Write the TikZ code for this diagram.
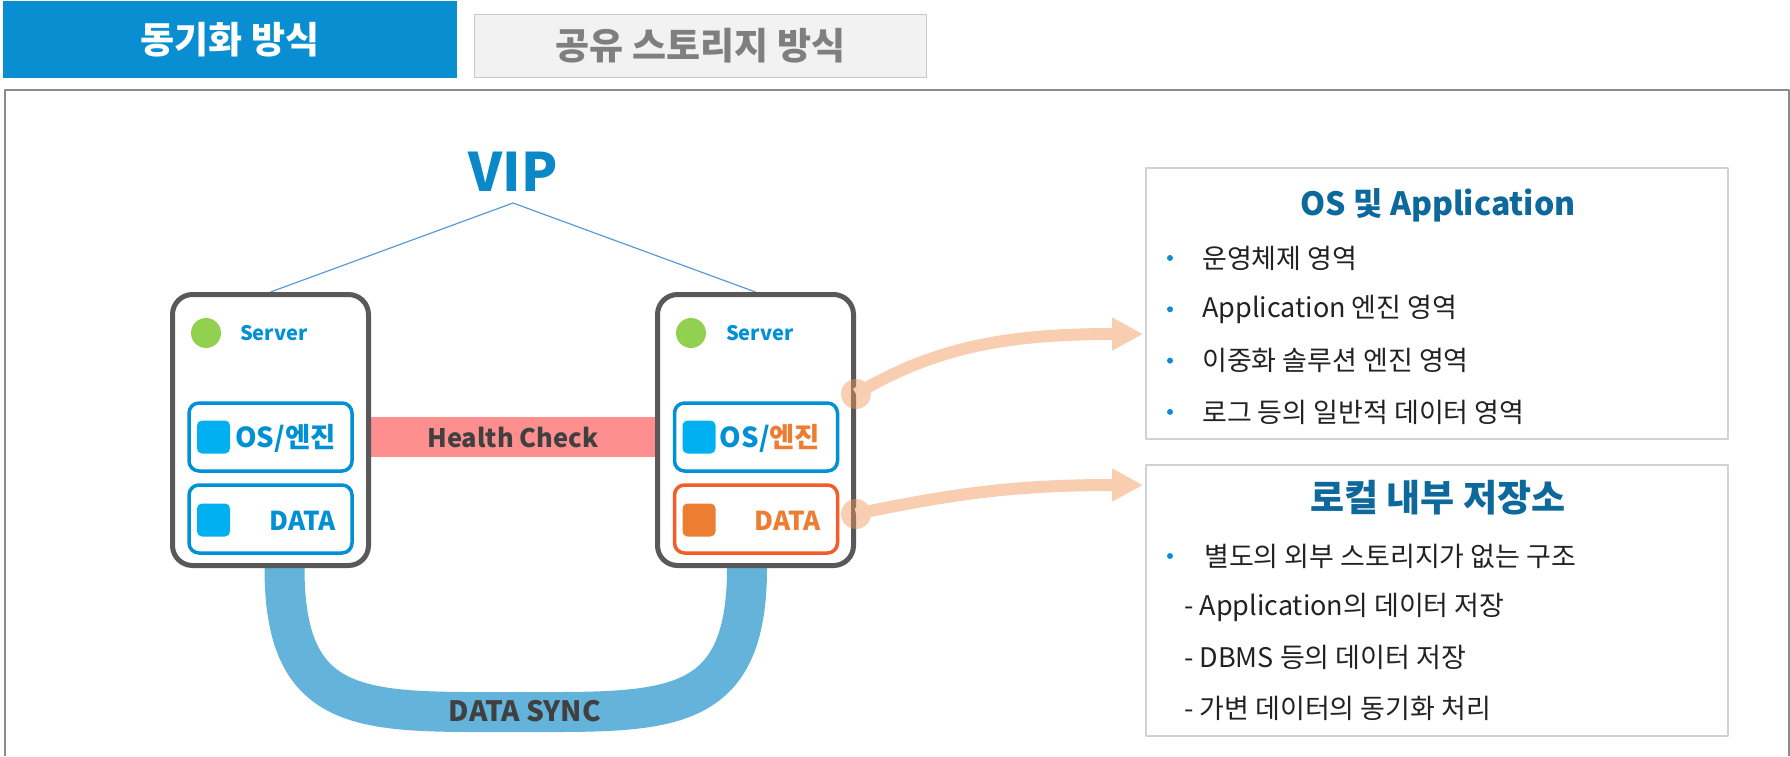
\documentclass[tikz,border=0pt]{standalone}
\usepackage{fontspec}
\setmainfont{Noto Sans CJK KR}
\usetikzlibrary{arrows.meta,backgrounds}
\definecolor{tabblue}{RGB}{9,142,209}
\definecolor{tabgray}{RGB}{242,242,242}
\definecolor{tabline}{RGB}{200,200,200}
\definecolor{tabtext}{RGB}{127,127,127}
\definecolor{framegray}{RGB}{140,140,140}
\definecolor{vipblue}{RGB}{10,136,200}
\definecolor{viplineblue}{RGB}{91,155,213}
\definecolor{servergray}{RGB}{89,89,89}
\definecolor{partblue}{RGB}{0,144,214}
\definecolor{partorange}{RGB}{244,92,40}
\definecolor{chipblue}{RGB}{0,176,240}
\definecolor{chiporange}{RGB}{237,125,49}
\definecolor{dotgreen}{RGB}{146,208,80}
\definecolor{hcred}{RGB}{255,143,143}
\definecolor{syncblue}{RGB}{99,179,218}
\definecolor{labeldark}{RGB}{64,64,64}
\definecolor{peachline}{RGB}{248,205,176}
\definecolor{peachdot}{RGB}{240,150,90}
\definecolor{panelline}{RGB}{210,210,210}
\definecolor{titleblue}{RGB}{13,104,155}
\definecolor{bulletblue}{RGB}{16,140,210}
\definecolor{textdark}{RGB}{34,34,34}
\newcommand{\pxfont}[1]{\fontsize{#1}{#1}\selectfont}
\begin{document}
\begin{tikzpicture}[x=1pt,y=-1pt,line join=round,font=\pxfont{27},
	tabbox/.style={inner sep=0pt,font=\pxfont{37}\bfseries},
	server/.style={draw=servergray,line width=5pt,rounded corners=20pt,fill=white,
		minimum width=196pt,minimum height=271pt,inner sep=0pt},
	part/.style={draw=partblue,line width=3.5pt,rounded corners=10pt,fill=white,
		minimum width=163pt,minimum height=68pt,inner sep=0pt},
	chip/.style={fill=chipblue,rounded corners=5pt,minimum size=33pt,inner sep=0pt},
	dot/.style={circle,fill=dotgreen,minimum size=30pt,inner sep=0pt},
	partlabel/.style={text=partblue,font=\pxfont{26}\bfseries,inner sep=0pt},
	panel/.style={draw=panelline,line width=2pt,minimum width=582pt,minimum height=271pt,inner sep=0pt},
	paneltitle/.style={text=titleblue,font=\pxfont{34}\bfseries,inner sep=0pt},
	item/.style={anchor=west,text=textdark,inner sep=0pt},
	peacharrow/.style={draw=peachline,line width=12pt,-{Triangle[length=31pt,width=31pt]}}]
	\useasboundingbox (0,0) rectangle (1790,756);
	% tabs and frame
	\node[tabbox,fill=tabblue,text=white,minimum width=454pt,minimum height=77pt] (tabsync) at (230,39.5) {동기화 방식};
	\node[tabbox,fill=tabgray,draw=tabline,line width=1.5pt,text=tabtext,minimum width=452pt,minimum height=63pt] (tabshare) at (700.5,46) {공유 스토리지 방식};
	\draw[framegray,line width=2pt] (5,756) |- (1789,90) -- (1789,756);
	% VIP and servers
	\node[text=vipblue,font=\pxfont{53}\bfseries,inner sep=0pt] (vip) at (513,171.5) {VIP};
	\coordinate (apex) at (513,203);
	\node[server] (sv1) at (270.5,430) {};
	\node[server] (sv2) at (755.5,430) {};
	\node[dot] (dot1) at (206,333) {};
	\node[dot] (dot2) at (691,333) {};
	\node[partlabel,anchor=west,font=\pxfont{20}\bfseries] (srv1) at (240,333) {Server};
	\node[partlabel,anchor=west,font=\pxfont{20}\bfseries] (srv2) at (726,333) {Server};
	\node[part] (os1) at (270.5,437) {};
	\node[part] (data1) at (270.5,519) {};
	\node[part] (os2) at (756,437) {};
	\node[part,draw=partorange] (data2) at (756,519) {};
	\node[chip] (chipos1) at (213.5,437) {};
	\node[chip] (chipdata1) at (213.5,520) {};
	\node[chip] (chipos2) at (699,437) {};
	\node[chip,fill=chiporange] (chipdata2) at (699,520) {};
	\node[partlabel,font=\pxfont{27.5}\bfseries] (oslabel1) at (285.5,438) {OS/엔진};
	\node[partlabel] (datalabel1) at (302.5,521) {DATA};
	\node[partlabel,font=\pxfont{27.5}\bfseries] (oslabel2) at (770,438) {OS/\textcolor{chiporange}{엔진}};
	\node[partlabel,text=chiporange] (datalabel2) at (787.5,521) {DATA};
	\coordinate (syncmid) at (515,712);
	\begin{scope}[on background layer]
		\draw[viplineblue,line width=1.2pt] (sv1.north) -- (apex) -- (sv2.north);
		\draw[hcred,line width=40pt] (sv1.east |- os1) -- (sv2.west |- os1)
			node[midway,text=labeldark,font=\pxfont{25.5}\bfseries] (hc) {Health Check};
		\draw[syncblue,line width=40pt] ([xshift=14pt]sv1.south) .. controls +(0,150) and +(-150,0) .. (syncmid)
			.. controls +(150,0) and +(0,150) .. ([xshift=-8.5pt]sv2.south);
	\end{scope}
	\node[text=labeldark,font=\pxfont{28}\bfseries,inner sep=0pt] (sync) at (525,711) {DATA SYNC};
	% right panels
	\node[panel] (osbox) at (1437,303.5) {};
	\node[panel] (localbox) at (1437,600.5) {};
	\node[paneltitle,font=\pxfont{32}\bfseries] (ostitle) at (1438,205) {OS 및 Application};
	\node[paneltitle,font=\pxfont{37}\bfseries] (localtitle) at (1438,498) {로컬 내부 저장소};
	\foreach \t [count=\i] in {운영체제 영역,Application 엔진 영역,이중화 솔루션 엔진 영역,로그 등의 일반적 데이터 영역}{
		\fill[bulletblue] (1170,{258+51.3*(\i-1)}) circle (3pt);
		\node[item] (ositem\i) at (1202,{258+51.3*(\i-1)}) {\t};
	}
	\fill[bulletblue] (1170,556) circle (3pt);
	\node[item] (localitem1) at (1204,556) {별도의 외부 스토리지가 없는 구조};
	\foreach \t [count=\i] in {Application의 데이터 저장,DBMS 등의 데이터 저장,가변 데이터의 동기화 처리}
		\node[item] (localsub\i) at (1184,{607+50.5*(\i-1)}) {- \t};
	% arrows to panels
	\fill[peachdot,opacity=.45] ([yshift=36pt]sv2.east) circle (15pt);
	\fill[peachdot,opacity=.45] ([yshift=-84pt]sv2.east) circle (15pt);
	\draw[peacharrow] ([yshift=36pt]sv2.east) .. controls +(82,-49) and +(-130,0) .. ([xshift=-2pt,yshift=-30.5pt]osbox.west);
	\draw[peacharrow] ([yshift=-84pt]sv2.east) .. controls +(95,-20) and +(-130,0) .. ([xshift=-2pt,yshift=115.5pt]localbox.west);
\end{tikzpicture}
\end{document}
